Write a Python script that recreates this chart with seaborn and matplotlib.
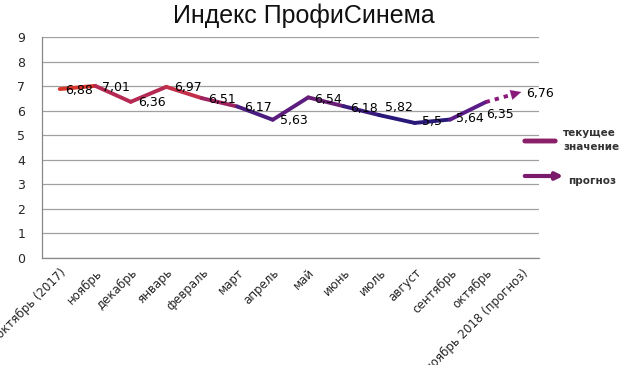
import matplotlib
matplotlib.use("Agg")
import matplotlib.pyplot as plt
import seaborn as sns
import pandas as pd
import numpy as np

categories = ["октябрь (2017)", "ноябрь", "декабрь", "январь", "февраль", "март",
              "апрель", "май", "июнь", "июль", "август", "сентябрь", "октябрь",
              "ноябрь 2018 (прогноз)"]
values = [6.88, 7.01, 6.36, 6.97, 6.51, 6.17, 5.63, 6.54, 6.18, 5.82, 5.5, 5.64, 6.35, 6.76]
segment_colors = ["#d8352b", "#b42a52", "#b42a52", "#c4304a", "#9c2260", "#4a1c80",
                  "#5c1c7e", "#6a1e76", "#3a1a7a", "#2a1878", "#2a1878", "#5a1c88"]
forecast_color = "#8a1a7a"
# label offsets in pixels (dx, dy)
label_offsets = [(19, -1), (21, -2), (21, -1), (22, -1), (20, -1), (21, -1), (21, -1),
                 (20, -2), (20, -2), (20, 8), (17, 1), (20, 1), (14, -12), (19, -1)]

sns.set_theme(style="white")
plt.rcParams['font.family'] = ['DejaVu Sans']

df = pd.DataFrame({"pos": np.arange(len(categories)), "value": values})

fig = plt.figure(figsize=(6.21, 3.65), dpi=100)
ax = fig.add_axes([42/621, 1-258/365, (539-42)/621, (258-37)/365])

# actual segments
for i, c in enumerate(segment_colors):
    sns.lineplot(data=df.iloc[i:i+2], x="pos", y="value", color=c, lw=2.8,
                 ax=ax, solid_capstyle="round", legend=False)

# forecast: dotted line with arrow head
fc = df.iloc[len(df)-2:]
x0, y0 = fc["pos"].iloc[0], fc["value"].iloc[0]
x1, y1 = fc["pos"].iloc[1], fc["value"].iloc[1]
sns.lineplot(data=fc, x="pos", y="value", color=forecast_color, lw=2.8,
             linestyle=(0, (1.1, 1.3)), ax=ax, legend=False)
ax.annotate("", xy=(x1, y1),
            xytext=(x1 - 0.3*(x1-x0), y1 - 0.3*(y1-y0)),
            arrowprops=dict(arrowstyle="-|>,head_length=0.75,head_width=0.36",
                            color=forecast_color, lw=0.1, mutation_scale=10,
                            shrinkA=0, shrinkB=0))

# data labels
for i, v in enumerate(values):
    dx, dy = label_offsets[i]
    ax.annotate(str(v).replace(".", ","), (i, v), xytext=(dx, dy),
                textcoords="offset pixels", ha="center", va="center",
                fontsize=9, color="black")

ax.set_xlim(-0.5, len(categories) - 0.5)
ax.set_ylim(0, 9)
ax.set_yticks(range(0, 10))
ax.set_xticks(range(len(categories)))
ax.set_xticklabels(categories, rotation=45, ha="right", rotation_mode="anchor",
                   fontsize=8.5)
ax.set_xticks(np.arange(-0.5, len(categories)), minor=True)
ax.tick_params(axis="x", which="major", length=0, pad=6)
ax.tick_params(axis="x", which="minor", length=5, color="#888888", width=0.8)
ax.tick_params(axis="y", length=4, color="#888888", width=0.8, labelsize=9, pad=8)
ax.grid(axis="y", color="#a0a0a0", lw=0.9)
ax.set_axisbelow(True)
for s in ["top", "right"]:
    ax.spines[s].set_visible(False)
for s in ["left", "bottom"]:
    ax.spines[s].set_color("#888888")
    ax.spines[s].set_linewidth(0.9)
ax.set_xlabel("")
ax.set_ylabel("")

fig.text(304/621, 1-16/365, "Индекс ПрофиСинема", ha="center", va="center",
         fontsize=18, family="Liberation Sans", color="#111111")

# legend (manual)
H = 365
ax.annotate("", xy=(558, H-141), xytext=(522, H-141), xycoords="figure pixels",
            arrowprops=dict(arrowstyle="-", color="#8a1f6a", lw=3.5))
fig.text(563/621, 1-133/H, "текущее", fontsize=7.5, fontweight="bold",
         color="#333333", va="center", ha="left")
fig.text(563/621, 1-147/H, "значение", fontsize=7.5, fontweight="bold",
         color="#333333", va="center", ha="left")
ax.annotate("", xy=(566, H-176), xytext=(522, H-176), xycoords="figure pixels",
            arrowprops=dict(arrowstyle="-|>", color="#7a1a6a", lw=3,
                            mutation_scale=10))
fig.text(568/621, 1-181/H, "прогноз", fontsize=7.5, fontweight="bold",
         color="#333333", va="center", ha="left")

fig.savefig("out.png", dpi=100)
